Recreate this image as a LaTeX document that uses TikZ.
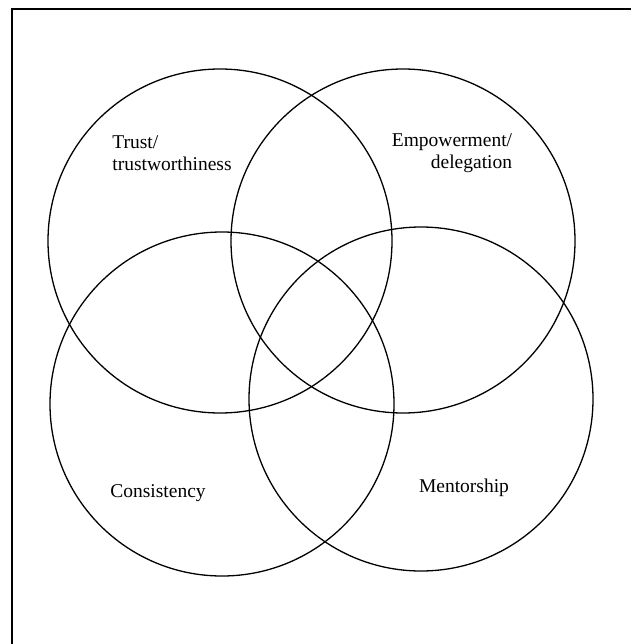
\documentclass[tikz,border=0pt]{standalone}
\usepackage{fontspec}
\setmainfont{Liberation Serif}
\usepackage{tikz}

\begin{document}
\begin{tikzpicture}[
    x=1pt, y=-1pt,
    ring/.style={circle, draw, line width=1.3pt, minimum size=344pt, inner sep=0pt},
    label/.style={font=\fontsize{19.5}{22}\selectfont, inner sep=0pt}
]
\useasboundingbox (0,0) rectangle (630,644);

% outer frame, only left and top edges fall on the page
\draw[line width=1.4pt] (12,650) -- (12,9) -- (636,9);

% the four overlapping circles
\node[ring] (trust) at (220,241) {};
\node[ring] (empower) at (403,241) {};
\node[ring] (consist) at (222,404) {};
\node[ring] (mentor) at (421,399) {};

% labels
\node[label, align=left] (trustlbl) at (172,153) {Trust/\\trustworthiness};
\node[label, align=right] (empowerlbl) at (452,153) {Empowerment/\\delegation};
\node[label] (consistlbl) at (158,493) {Consistency};
\node[label] (mentorlbl) at (464,488) {Mentorship};
\end{tikzpicture}
\end{document}
